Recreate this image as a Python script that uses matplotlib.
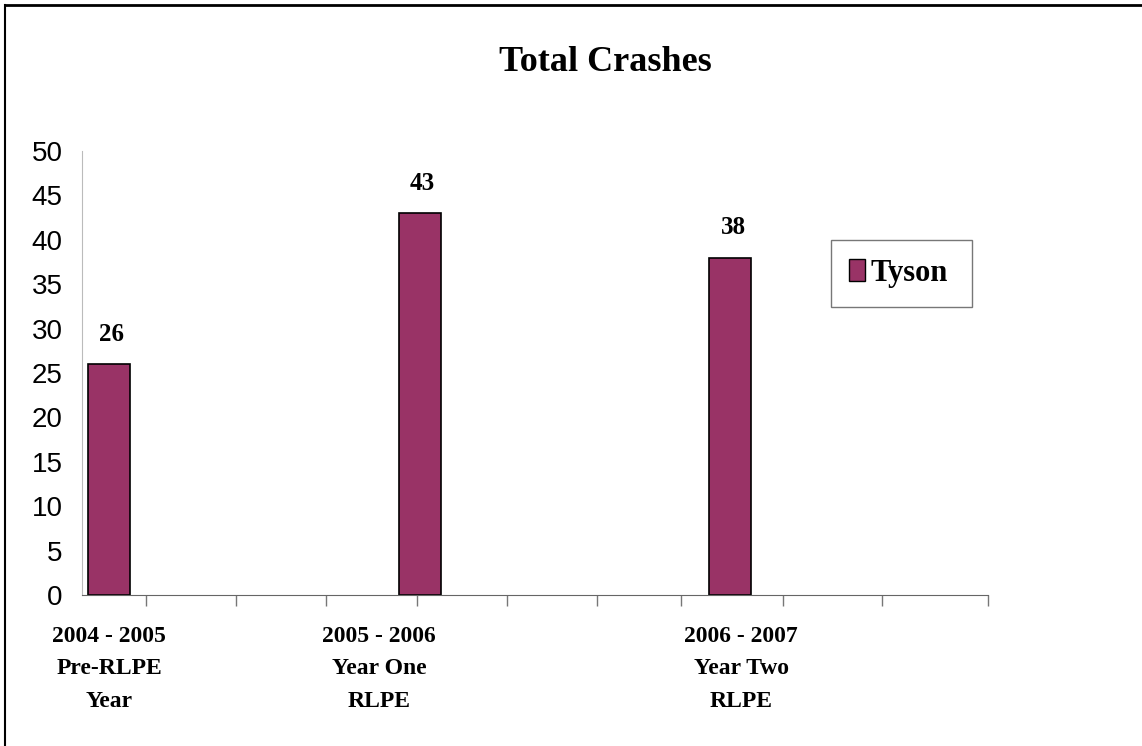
import matplotlib.pyplot as plt
from matplotlib.patches import Rectangle, Patch
from matplotlib.lines import Line2D

# crash counts per period
periods = ["2004 - 2005\nPre-RLPE\nYear", "2005 - 2006\nYear One\nRLPE", "2006 - 2007\nYear Two\nRLPE"]
crashes = [26, 43, 38]
series = "Tyson"

bar_color = "#993366"
serif = "Liberation Serif"

fig = plt.figure(figsize=(11.42, 7.46), dpi=100)
ax = fig.add_axes([0.0718, 0.2024, 0.7934, 0.5952])

xs = list(range(len(crashes)))
bars = ax.bar(xs, crashes, width=0.135, color=bar_color, edgecolor="black", linewidth=1.2)

for x, v in zip(xs, crashes):
    ax.annotate(str(v), (x, v), xytext=(2, 13), textcoords="offset points",
                ha="center", va="bottom", fontsize=18, fontweight="bold", family=serif)

ax.set_xlim(-0.087, 2.83)
ax.set_ylim(0, 50)
ax.set_yticks(range(0, 51, 5))
ax.tick_params(axis="y", length=0, pad=14, labelsize=20)
for lbl in ax.get_yticklabels():
    lbl.set_family("Liberation Sans")

# category labels sit a little off the bar centres
ax.set_xticks([0.0, 0.87, 2.035], periods)
ax.tick_params(axis="x", which="major", length=0, pad=22)
for lbl in ax.get_xticklabels():
    lbl.set_family(serif)
    lbl.set_fontweight("bold")
    lbl.set_fontsize(17)
    lbl.set_linespacing(1.72)

ax.set_xticks([0.12, 0.41, 0.70, 0.99, 1.28, 1.57, 1.84, 2.17, 2.49, 2.83], minor=True)
ax.tick_params(axis="x", which="minor", length=8, width=1, color="#777777", direction="out")

for s in ["top", "right"]:
    ax.spines[s].set_visible(False)
ax.spines["left"].set_color("#bbbbbb")
ax.spines["bottom"].set_color("#666666")

fig.text(0.53, 0.905, "Total Crashes", ha="center", va="baseline",
         fontsize=26, fontweight="bold", family=serif)

# legend box
fig.add_artist(Rectangle((831 / 1142, 1 - 307 / 746), 141 / 1142, 67 / 746,
                         transform=fig.transFigure, fill=False, edgecolor="#777777", linewidth=1))
fig.legend(handles=[Patch(facecolor=bar_color, edgecolor="black", label=series)],
           loc="center left", bbox_to_anchor=(834 / 1142, 1 - 273 / 746), frameon=False,
           handlelength=0.5, handleheight=0.7, handletextpad=0.2, borderpad=0,
           prop={"family": serif, "weight": "bold", "size": 22})

# page frame on the left and top
fig.add_artist(Line2D([0.004, 0.004], [0, 0.993], transform=fig.transFigure, color="black", linewidth=1.5))
fig.add_artist(Line2D([0.004, 1], [0.993, 0.993], transform=fig.transFigure, color="black", linewidth=2))

fig.savefig("out.png", dpi=100, facecolor="white")
